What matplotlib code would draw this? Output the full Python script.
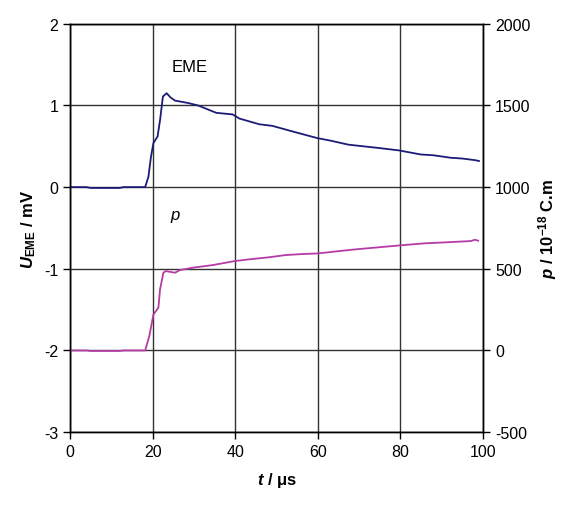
import matplotlib.pyplot as plt

plt.rcParams['font.family'] = 'Liberation Sans'
plt.rcParams['axes.unicode_minus'] = False
plt.rcParams['mathtext.fontset'] = 'custom'
plt.rcParams['mathtext.rm'] = 'Liberation Sans'
plt.rcParams['mathtext.it'] = 'Liberation Sans:italic'
plt.rcParams['mathtext.bf'] = 'Liberation Sans:bold'
plt.rcParams['mathtext.bfit'] = 'Liberation Sans:italic:bold'

# EME signal (mV) vs time (us)
t_eme = [0, 4, 5, 8, 12, 13, 16, 18.2, 19.0, 19.6, 20.2, 21.2, 21.8, 22.5, 23.4, 24.3, 25.4,
         28.6, 31.0, 35.4, 39.4, 41.0, 45.8, 49.0, 54.0, 59.9, 63.0, 67.4, 74.6, 79.6,
         84.9, 88.0, 92.1, 95.0, 98.1, 99.0]
u_eme = [0.0, 0.0, -0.01, -0.01, -0.01, 0.0, 0.0, 0.0, 0.13, 0.37, 0.54, 0.62, 0.82, 1.11, 1.15, 1.10, 1.06,
         1.03, 1.00, 0.91, 0.89, 0.84, 0.77, 0.75, 0.68, 0.60, 0.57, 0.52, 0.48, 0.45,
         0.40, 0.39, 0.36, 0.35, 0.33, 0.32]

# dipole moment p (1e-18 C.m)
t_p = [0, 4, 5, 8, 12, 13, 16, 18.2, 19.2, 20.2, 21.4, 21.8, 22.6, 23.2, 25.4, 26.6, 29.8,
       34.6, 39.8, 43.4, 48.0, 52.2, 56.0, 60.0, 65.0, 69.1, 74.0, 79.7, 85.9, 91.0,
       97.1, 98.0, 98.8]
p_val = [0, 0, -3, -3, -3, 0, 0, 0, 88, 220, 262, 374, 476, 486, 476, 492, 507,
         523, 547, 558, 570, 584, 590, 594, 608, 619, 630, 643, 656, 662,
         670, 678, 672]

fig = plt.figure(figsize=(5.69, 5.06), dpi=100)
ax = fig.add_axes([0.123, 0.144, 0.726, 0.807])
ax2 = ax.twinx()

ax.set_xlim(0, 100)
ax.set_ylim(-3, 2)
ax.set_xticks(range(0, 101, 20))
ax.set_yticks(range(-3, 3))
ax.grid(True, color='#333333', linewidth=1.0)
ax.set_axisbelow(True)

ax2.set_ylim(-500, 2000)
ax2.set_yticks(range(-500, 2001, 500))

ax.plot(t_eme, u_eme, color='#1c1c78', linewidth=1.3)
ax2.plot(t_p, p_val, color='#b53ba5', linewidth=1.3)

ax.text(29, 1.48, 'EME', fontsize=12, ha='center', va='center')
ax.text(25.5, -0.34, 'p', fontsize=12, style='italic', ha='center', va='center')

for a in (ax, ax2):
    a.tick_params(labelsize=11.5, direction='out', length=5, width=1)
    for s in a.spines.values():
        s.set_color('black')
        s.set_linewidth(1.0)

ax.set_xlabel(r'$\mathbfit{t}$ / μs', fontsize=12, fontweight='bold', labelpad=8)
ax.set_ylabel(r'$\mathbfit{U}_{\mathbf{EME}}$ / mV', fontsize=12, fontweight='bold', labelpad=4)
ax2.set_ylabel(r'$\mathbfit{p}$ / 10$^{\mathbf{-18}}$ C.m', fontsize=12, fontweight='bold',
               rotation=90, labelpad=4)

fig.savefig('out.png', dpi=100)
